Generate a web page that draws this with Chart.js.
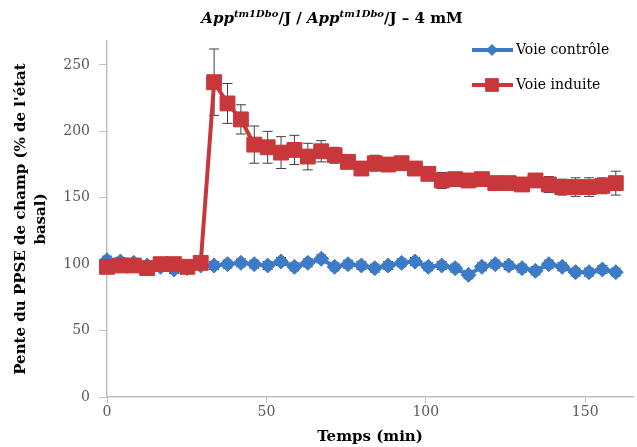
<!DOCTYPE html>
<html>
<head>
<meta charset="utf-8">
<script src="https://cdn.jsdelivr.net/npm/chart.js@4/dist/chart.umd.min.js"></script>
<style>
    body { margin: 0; background: #fff; }
    #wrap { position: relative; width: 637px; height: 447px; }
    #title {
        position: absolute;
        top: 8px;
        left: 0;
        width: 664px;
        text-align: center;
        font: bold 15px 'DejaVu Serif', serif;
        color: #000;
    }
    #title sup { font-size: 10px; font-style: italic; }
    canvas { position: absolute; top: 0; left: 0; }
</style>
</head>
<body>
<div id="wrap">
    <canvas id="chart" width="637" height="447"></canvas>
    <div id="title"><i>App</i><sup>tm1Dbo</sup>/J / <i>App</i><sup>tm1Dbo</sup>/J – 4 mM</div>
</div>
<script>
// temps (min)
const times = [0, 4.2, 8.4, 12.6, 16.8, 21, 25.2, 29.4, 33.6, 37.8, 42, 46.2, 50.4, 54.6,
    58.8, 63, 67.2, 71.4, 75.6, 79.8, 84, 88.2, 92.4, 96.6, 100.8, 105, 109.2, 113.4,
    117.6, 121.8, 126, 130.2, 134.4, 138.6, 142.8, 147, 151.2, 155.4, 159.6];

const controle = [103, 102, 101, 99, 98, 96, 97, 99, 99, 100, 101, 100, 99, 102,
    98, 101, 104, 98, 100, 99, 97, 99, 101, 102, 98, 99, 97, 92,
    98, 100, 99, 97, 95, 100, 98, 94, 94, 96, 94];
const controleErr = [3, 3, 3, 3, 3, 3, 3, 3, 3, 3, 3, 3, 3, 3,
    3, 3, 3, 3, 3, 3, 3, 3, 3, 3, 3, 3, 3, 3,
    3, 3, 3, 3, 3, 3, 3, 3, 3, 3, 3];

const induite = [98, 99, 99, 97, 100, 100, 98, 101, 237, 221, 209, 190, 188, 184,
    186, 181, 185, 182, 177, 172, 176, 175, 176, 172, 168, 163, 164, 163,
    164, 161, 161, 160, 163, 160, 158, 158, 158, 159, 161];
const induiteErr = [3, 3, 3, 3, 3, 3, 3, 3, 25, 15, 11, 14, 12, 12,
    11, 10, 8, 6, 5, 5, 6, 5, 5, 5, 5, 6, 5, 5,
    5, 5, 5, 5, 5, 6, 6, 7, 7, 6, 9];

const xTicks = [0, 50, 100, 150];
const yTicks = [0, 50, 100, 150, 200, 250];

const BLUE = '#3b7bc8';
const RED = '#c8383a';
const SERIF = "'DejaVu Serif', serif";

const toPoints = (values) => values.map((v, i) => ({ x: times[i], y: v }));

const errorBars = {
    id: 'errorBars',
    beforeDatasetsDraw(chart) {
        const { ctx, scales: { x, y } } = chart;
        ctx.save();
        ctx.strokeStyle = '#404040';
        ctx.lineWidth = 1;
        chart.data.datasets.forEach((ds) => {
            ds.data.forEach((p, i) => {
                const px = x.getPixelForValue(p.x);
                const top = y.getPixelForValue(p.y + ds.errors[i]);
                const bottom = y.getPixelForValue(p.y - ds.errors[i]);
                ctx.beginPath();
                ctx.moveTo(px, top);
                ctx.lineTo(px, bottom);
                ctx.moveTo(px - 5, top);
                ctx.lineTo(px + 5, top);
                ctx.moveTo(px - 5, bottom);
                ctx.lineTo(px + 5, bottom);
                ctx.stroke();
            });
        });
        ctx.restore();
    },
};

// legend drawn inside the plot, top right
const insideLegend = {
    id: 'insideLegend',
    afterDraw(chart) {
        const { ctx } = chart;
        const entries = [chart.data.datasets[1], chart.data.datasets[0]];
        ctx.save();
        entries.forEach((ds, i) => {
            const yPos = 50 + i * 35;
            ctx.strokeStyle = ds.borderColor;
            ctx.lineWidth = 4;
            ctx.beginPath();
            ctx.moveTo(472, yPos);
            ctx.lineTo(513, yPos);
            ctx.stroke();
            ctx.fillStyle = ds.backgroundColor;
            ctx.lineWidth = 1;
            Chart.helpers.drawPoint(ctx, {
                pointStyle: ds.pointStyle,
                radius: ds.legendRadius,
                borderWidth: 1,
            }, 492, yPos);
            ctx.fillStyle = '#000';
            ctx.font = `14px ${SERIF}`;
            ctx.textBaseline = 'middle';
            ctx.fillText(ds.label, 516, yPos);
        });
        ctx.restore();
    },
};

new Chart(document.getElementById('chart'), {
    type: 'line',
    data: {
        datasets: [
            {
                label: 'Voie induite',
                data: toPoints(induite),
                errors: induiteErr,
                borderColor: RED,
                backgroundColor: RED,
                borderWidth: 4,
                pointStyle: 'rect',
                pointRadius: 10.5,
                legendRadius: 9,
                pointBorderWidth: 1,
                order: 0,
                clip: false,
            },
            {
                label: 'Voie contrôle',
                data: toPoints(controle),
                errors: controleErr,
                borderColor: BLUE,
                backgroundColor: BLUE,
                borderWidth: 4,
                pointStyle: 'rectRot',
                pointRadius: 7.5,
                legendRadius: 5.5,
                pointBorderWidth: 1,
                order: 1,
                clip: false,
            },
        ],
    },
    options: {
        responsive: false,
        animation: false,
        layout: { autoPadding: false, padding: { left: 0, right: 4, top: 41, bottom: 0 } },
        plugins: {
            legend: { display: false },
            tooltip: { enabled: false },
        },
        scales: {
            x: {
                type: 'linear',
                min: 0,
                max: 165,
                afterFit: (scale) => { scale.height = 50; },
                afterBuildTicks: (scale) => { scale.ticks = xTicks.map((v) => ({ value: v })); },
                grid: { display: true, drawOnChartArea: false, tickLength: 6, color: '#bfbfbf' },
                border: { color: '#bfbfbf', width: 1.5 },
                ticks: { color: '#595959', font: { family: SERIF, size: 14 }, padding: 1, maxRotation: 0 },
                title: {
                    display: true,
                    text: 'Temps (min)',
                    color: '#000',
                    font: { family: SERIF, size: 15, weight: 'bold' },
                    padding: { top: 0, bottom: 1 },
                },
            },
            y: {
                min: 0,
                max: 268,
                afterFit: (scale) => { scale.width = 107; },
                afterBuildTicks: (scale) => { scale.ticks = yTicks.map((v) => ({ value: v })); },
                grid: { display: true, drawOnChartArea: false, tickLength: 8, color: '#bfbfbf' },
                border: { color: '#bfbfbf', width: 1.5 },
                ticks: { color: '#595959', font: { family: SERIF, size: 14 }, padding: 9 },
                title: {
                    display: true,
                    text: ["Pente du PPSE de champ (% de l'état", 'basal)'],
                    color: '#000',
                    font: { family: SERIF, size: 15, weight: 'bold', lineHeight: 1.35 },
                    padding: { top: 11, bottom: 0 },
                },
            },
        },
    },
    plugins: [errorBars, insideLegend],
});
</script>
</body>
</html>
